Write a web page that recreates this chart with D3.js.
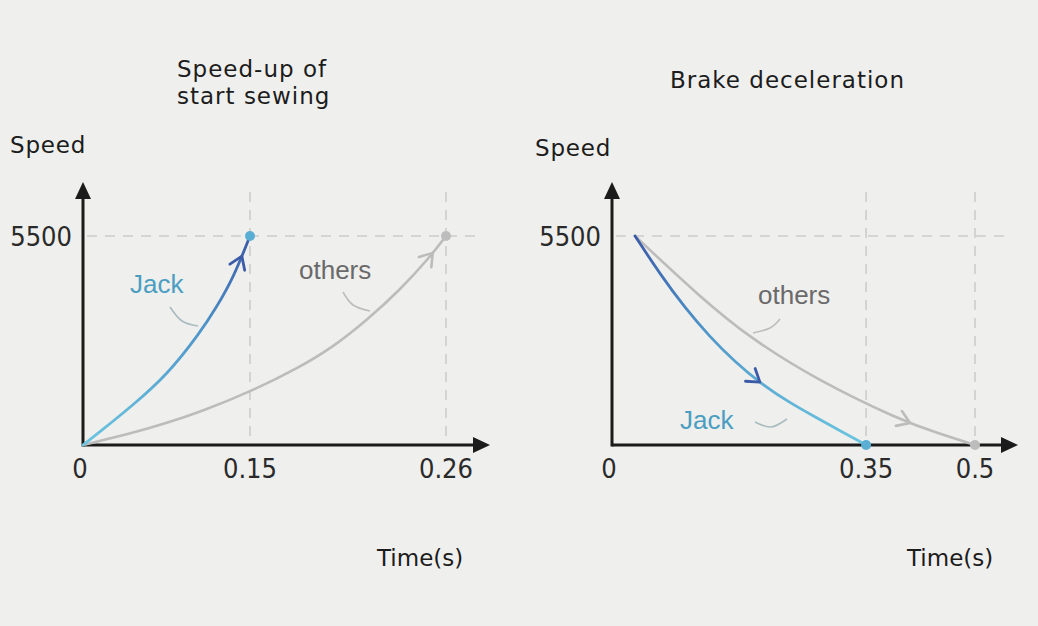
<!DOCTYPE html>
<html lang="en">
<head>
<meta charset="UTF-8">
<title>Speed-up and brake deceleration</title>
<script src="https://d3js.org/d3.v7.min.js"></script>
<style>
  body { margin: 0; background: #efefed; }
  svg { display: block; }
  .title, .axis-title { font-family: "DejaVu Sans", sans-serif; fill: #1c1c1c; }
  .tick-label { font-family: "DejaVu Sans Condensed", "DejaVu Sans", sans-serif; fill: #2a2a2a; }
  .series-label { font-family: "Liberation Sans", Arial, sans-serif; }
</style>
</head>
<body>
<svg width="1038" height="626"></svg>
<script>
// values
const speedTicks = [0, 5500];

const startTimeTicks = [0, 0.15, 0.26];
const jackStartT = [0, 0.015, 0.045, 0.0755, 0.105, 0.12, 0.135, 0.15];
const jackStartV = [0, 342, 1053, 1842, 2947, 3632, 4395, 5500];
const othersStartT = [0, 0.0449, 0.0754, 0.1051, 0.15, 0.1781, 0.1966, 0.2157, 0.2342, 0.251, 0.26];
const othersStartV = [0, 316, 579, 868, 1395, 2053, 2579, 3290, 4079, 4947, 5500];

const brakeTimeTicks = [0, 0.35, 0.5];
const jackBrakeT = [0.0317, 0.0661, 0.1006, 0.135, 0.1694, 0.2039, 0.2452, 0.2824, 0.3168, 0.35];
const jackBrakeV = [5500, 4500, 3605, 2842, 2184, 1632, 1105, 711, 342, 0];
const othersBrakeT = [0.0317, 0.1212, 0.19, 0.2824, 0.3967, 0.4477, 0.5];
const othersBrakeV = [5500, 3895, 2816, 1711, 658, 316, 0];

const svg = d3.select("svg");
const defs = svg.append("defs");

const panels = [
  {
    id: "start",
    title: ["Speed-up of", "start sewing"],
    titleX: 177, titleY: 77,
    ticks: startTimeTicks,
    // the source axis is not evenly spaced, so map each tick to its spot
    x: d3.scaleLinear().domain(startTimeTicks).range([83, 250, 446]),
    axisEnd: 490, hGridEnd: 483,
    speedX: 10, speedY: 153, timeX: 377,
    jack: { t: jackStartT, v: jackStartV, arrow: 0.92 },
    others: { t: othersStartT, v: othersStartV, arrow: 0.95 },
    jackLabel: [130, 283], othersLabel: [299, 270],
    jackLeader: [[170, 307], [182, 321], [198, 326]],
    othersLeader: [[343, 292], [353, 305], [370, 311]]
  },
  {
    id: "brake",
    title: ["Brake deceleration"],
    titleX: 670, titleY: 88,
    ticks: brakeTimeTicks,
    x: d3.scaleLinear().domain([0, 0.5]).range([612, 975]),
    axisEnd: 1018, hGridEnd: 1008,
    speedX: 535, speedY: 156, timeX: 907,
    jack: { t: jackBrakeT, v: jackBrakeV, arrow: 0.61 },
    others: { t: othersBrakeT, v: othersBrakeV, arrow: 0.83 },
    jackLabel: [680, 419], othersLabel: [758, 295],
    jackLeader: [[755, 422], [771, 427], [787, 419]],
    othersLeader: [[753, 333], [770, 328], [780, 319]]
  }
];

const y = d3.scaleLinear().domain([0, 5500]).range([445, 236]);
const axisTop = 182;
const gridTop = 192;

const line = d3.line()
  .x(d => d[0])
  .y(d => d[1])
  .curve(d3.curveBasis);

panels.forEach(p => {
  const g = svg.append("g");
  const x0 = p.x(0);

  // jack gradient: teal near zero speed, deeper blue near top speed
  const grad = defs.append("linearGradient")
    .attr("id", "jackGrad-" + p.id)
    .attr("gradientUnits", "userSpaceOnUse")
    .attr("x1", 0).attr("x2", 0)
    .attr("y1", y(0)).attr("y2", y(5500));
  grad.append("stop").attr("offset", "0%").attr("stop-color", "#6cc6e0");
  grad.append("stop").attr("offset", "55%").attr("stop-color", "#4f95c9");
  grad.append("stop").attr("offset", "100%").attr("stop-color", "#3b5aa8");

  // dashed guides
  g.append("line")
    .attr("x1", x0 + 4).attr("x2", p.hGridEnd)
    .attr("y1", y(5500)).attr("y2", y(5500))
    .attr("stroke", "#cdcdcd").attr("stroke-width", 1.6)
    .attr("stroke-dasharray", "10,8");
  p.ticks.slice(1).forEach(t => {
    g.append("line")
      .attr("x1", p.x(t)).attr("x2", p.x(t))
      .attr("y1", gridTop).attr("y2", y(0))
      .attr("stroke", "#cdcdcd").attr("stroke-width", 1.6)
      .attr("stroke-dasharray", "10,8");
  });

  // axes with arrow heads
  g.append("line")
    .attr("x1", x0).attr("x2", x0)
    .attr("y1", y(0) + 1.5).attr("y2", axisTop + 14)
    .attr("stroke", "#1b1b1b").attr("stroke-width", 3);
  g.append("path")
    .attr("d", `M${x0},${axisTop} L${x0 - 8},${axisTop + 17} L${x0 + 8},${axisTop + 17} Z`)
    .attr("fill", "#1b1b1b");
  g.append("line")
    .attr("x1", x0).attr("x2", p.axisEnd - 14)
    .attr("y1", y(0)).attr("y2", y(0))
    .attr("stroke", "#1b1b1b").attr("stroke-width", 3);
  g.append("path")
    .attr("d", `M${p.axisEnd},${y(0)} L${p.axisEnd - 17},${y(0) - 8} L${p.axisEnd - 17},${y(0) + 8} Z`)
    .attr("fill", "#1b1b1b");

  // tick labels
  g.append("text")
    .attr("class", "tick-label")
    .attr("x", x0 - 11).attr("y", y(5500) + 10)
    .attr("text-anchor", "end")
    .style("font-size", "27px")
    .text(speedTicks[1]);
  p.ticks.forEach((t, i) => {
    g.append("text")
      .attr("class", "tick-label")
      .attr("x", i === 0 ? x0 - 3 : p.x(t))
      .attr("y", 478)
      .attr("text-anchor", "middle")
      .style("font-size", "27px")
      .text(t);
  });

  // titles
  p.title.forEach((s, i) => {
    g.append("text").attr("class", "title")
      .attr("x", p.titleX).attr("y", p.titleY + i * 27)
      .style("font-size", "23px")
      .style("letter-spacing", "1px")
      .text(s);
  });
  g.append("text").attr("class", "axis-title")
    .attr("x", p.speedX).attr("y", p.speedY)
    .style("font-size", "23px")
    .style("letter-spacing", "0.8px")
    .text("Speed");
  g.append("text").attr("class", "axis-title")
    .attr("x", p.timeX).attr("y", 566)
    .style("font-size", "23px")
    .text("Time(s)");

  // curves
  const drawCurve = (s, stroke, width) => {
    const pts = s.t.map((t, i) => [p.x(t), y(s.v[i])]);
    const path = g.append("path")
      .attr("d", line(pts))
      .attr("fill", "none")
      .attr("stroke", stroke)
      .attr("stroke-width", width)
      .attr("stroke-linecap", "round");
    // open chevron pointing along the curve
    const node = path.node();
    const len = node.getTotalLength();
    const a = node.getPointAtLength(len * s.arrow);
    const b = node.getPointAtLength(len * s.arrow - 2);
    const ang = Math.atan2(a.y - b.y, a.x - b.x) * 180 / Math.PI;
    g.append("path")
      .attr("d", "M-12,-8 L0,0 L-12,8")
      .attr("transform", `translate(${a.x},${a.y}) rotate(${ang})`)
      .attr("fill", "none")
      .attr("stroke", stroke)
      .attr("stroke-width", width)
      .attr("stroke-linecap", "round")
      .attr("stroke-linejoin", "round");
    return pts[pts.length - 1];
  };
  const othersEnd = drawCurve(p.others, "#bcbcbc", 2.6);
  const jackEnd = drawCurve(p.jack, `url(#jackGrad-${p.id})`, 2.8);

  g.append("circle").attr("cx", othersEnd[0]).attr("cy", othersEnd[1])
    .attr("r", 5).attr("fill", "#bdbdbd");
  g.append("circle").attr("cx", jackEnd[0]).attr("cy", jackEnd[1])
    .attr("r", 5).attr("fill", "#5aaed4");

  // leaders and labels
  const leader = d3.line().curve(d3.curveNatural);
  g.append("path").attr("d", leader(p.jackLeader))
    .attr("fill", "none").attr("stroke", "#a9bcbf").attr("stroke-width", 1.6);
  g.append("path").attr("d", leader(p.othersLeader))
    .attr("fill", "none").attr("stroke", "#bdbdbd").attr("stroke-width", 1.6);
  g.append("text").attr("class", "series-label")
    .attr("x", p.jackLabel[0]).attr("y", p.jackLabel[1] + 10)
    .style("font-size", "26px").style("fill", "#4b9ec2")
    .text("Jack");
  g.append("text").attr("class", "series-label")
    .attr("x", p.othersLabel[0]).attr("y", p.othersLabel[1] + 9)
    .style("font-size", "26px").style("fill", "#6a6a6a")
    .text("others");
});
</script>
</body>
</html>
